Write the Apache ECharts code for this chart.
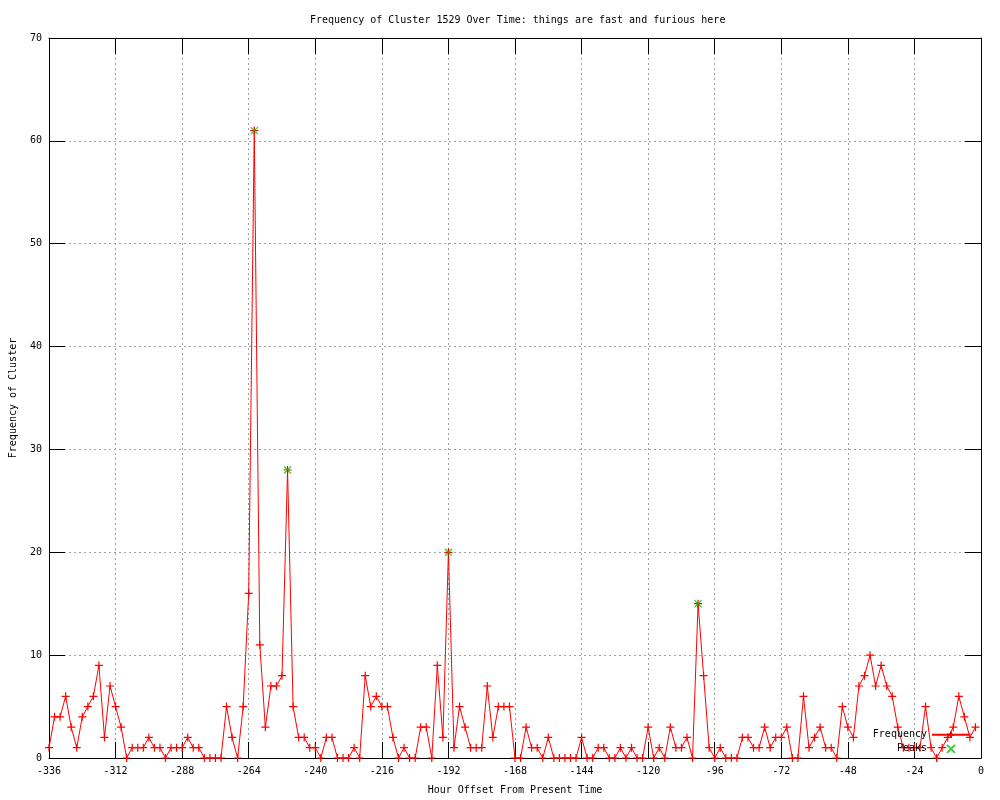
<!DOCTYPE html>
<html>
<head>
<meta charset="utf-8">
<script src="https://cdn.jsdelivr.net/npm/echarts@6/dist/echarts.min.js"></script>
<style>html,body{margin:0;padding:0;background:#fff}#c{width:1000px;height:800px}</style>
</head>
<body>
<div id="c"></div>
<script>
// Frequency per 2-hour step, starting at hour -336
const START_HOUR = -336;
const STEP_HOURS = 2;
const frequency = [
  1,4,4,6,3,1,4,5,6,9, 2,7,5,3,0,1,1,1,2,1,
  1,0,1,1,1,2,1,1,0,0, 0,0,5,2,0,5,16,61,11,3,
  7,7,8,28,5,2,2,1,1,0, 2,2,0,0,0,1,0,8,5,6,
  5,5,2,0,1,0,0,3,3,0, 9,2,20,1,5,3,1,1,1,7,
  2,5,5,5,0,0,3,1,1,0, 2,0,0,0,0,0,2,0,0,1,
  1,0,0,1,0,1,0,0,3,0, 1,0,3,1,1,2,0,15,8,1,
  0,1,0,0,0,2,2,1,1,3, 1,2,2,3,0,0,6,1,2,3,
  1,1,0,5,3,2,7,8,10,7, 9,7,6,3,1,1,1,1,5,1,
  0,1,2,3,6,4,2,3
];
const hours = frequency.map((_, i) => START_HOUR + i * STEP_HOURS);
const peakHours = [-262, -250, -192, -102];
const peakValues = [61, 28, 20, 15];
const xTicks = [-336,-312,-288,-264,-240,-216,-192,-168,-144,-120,-96,-72,-48,-24,0];
const yTicks = [0,10,20,30,40,50,60,70];

const FONT = '"DejaVu Sans Mono", "Liberation Mono", monospace';
const plusPath = 'path://M0,5L10,5M5,0L5,10';
const crossPath = 'path://M0,0L10,10M10,0L0,10';

const chart = echarts.init(document.getElementById('c'), null, {renderer: 'canvas'});
const tickCommon = {show: true, inside: true, length: 16, lineStyle: {color: '#000', width: 1}};
const axisLineCommon = {show: true, onZero: false, lineStyle: {color: '#000', width: 1}};
const splitCommon = {show: true, lineStyle: {color: '#a0a0a0', width: 1, type: [2, 3]}};

chart.setOption({
  animation: false,
  backgroundColor: '#fff',
  title: {
    text: 'Frequency of Cluster 1529 Over Time: things are fast and furious here',
    left: 305, top: 10,
    textStyle: {fontFamily: FONT, fontSize: 10, fontWeight: 'normal', color: '#000'}
  },
  grid: {left: 49, right: 19, top: 38, bottom: 40, containLabel: false},
  legend: {
    right: 24, top: 724, orient: 'vertical', align: 'right',
    itemWidth: 38, itemHeight: 8, itemGap: 2,
    textStyle: {fontFamily: FONT, fontSize: 10, color: '#000'},
    data: ['Frequency', 'Peaks']
  },
  xAxis: [{
    type: 'value', min: xTicks[0], max: xTicks[xTicks.length - 1], interval: 24,
    position: 'bottom',
    name: 'Hour Offset From Present Time', nameLocation: 'middle', nameGap: 27,
    nameTextStyle: {fontFamily: FONT, fontSize: 10, color: '#000'},
    axisLine: axisLineCommon, axisTick: tickCommon,
    axisLabel: {fontFamily: FONT, fontSize: 10, color: '#000', margin: 8},
    splitLine: splitCommon
  }, {
    type: 'value', min: xTicks[0], max: xTicks[xTicks.length - 1], interval: 24,
    position: 'top',
    axisLine: axisLineCommon, axisTick: tickCommon,
    axisLabel: {show: false}, splitLine: {show: false}
  }],
  yAxis: [{
    type: 'value', min: yTicks[0], max: yTicks[yTicks.length - 1], interval: 10,
    position: 'left',
    name: 'Frequency of Cluster', nameLocation: 'middle', nameGap: 31, nameRotate: 90,
    nameTextStyle: {fontFamily: FONT, fontSize: 10, color: '#000'},
    axisLine: axisLineCommon, axisTick: tickCommon,
    axisLabel: {fontFamily: FONT, fontSize: 10, color: '#000', margin: 7},
    splitLine: splitCommon
  }, {
    type: 'value', min: yTicks[0], max: yTicks[yTicks.length - 1], interval: 10,
    position: 'right',
    axisLine: axisLineCommon, axisTick: tickCommon,
    axisLabel: {show: false}, splitLine: {show: false}
  }],
  series: [{
    name: 'Frequency', type: 'line',
    data: hours.map((h, i) => [h, frequency[i]]),
    symbol: plusPath, symbolSize: 8, showSymbol: true,
    lineStyle: {color: '#ff0000', width: 1},
    itemStyle: {color: 'none', borderColor: '#ff0000', borderWidth: 1.2},
    z: 3
  }, {
    name: 'Peaks', type: 'scatter',
    data: peakHours.map((h, i) => [h, peakValues[i]]),
    symbol: crossPath, symbolSize: 7,
    itemStyle: {color: 'none', borderColor: '#00c000', borderWidth: 1.2},
    z: 4
  }]
});
</script>
</body>
</html>
